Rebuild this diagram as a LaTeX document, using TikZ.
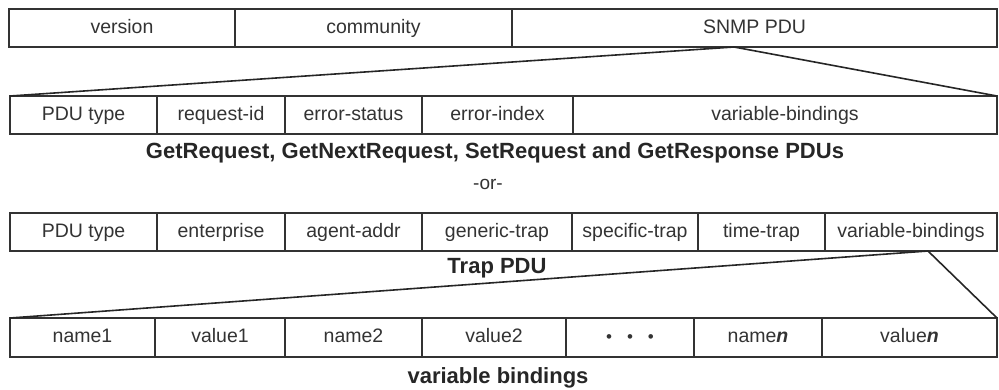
\documentclass[tikz,border=0pt]{standalone}
\usepackage{fontspec}
\setmainfont{Liberation Sans}
\begin{document}
\begin{tikzpicture}[x=1pt,y=-1pt,
  cell/.style={draw=black!80, line width=1.6pt, inner sep=0pt, outer sep=0pt,
    text=black!80, font=\fontsize{19.5}{22}\selectfont, text height=14pt, text depth=4pt},
  captext/.style={text=black!85, inner sep=0pt, font=\bfseries\fontsize{22}{24}\selectfont},
  link/.style={draw=black!85, line width=1.6pt}]
\useasboundingbox (0,0) rectangle (999,389);
% row 1
\node[cell, minimum width=226, minimum height=38] (v) at (122,28) {version};
\node[cell, minimum width=277, minimum height=38] (c) at (373.5,28) {community};
\node[cell, minimum width=485, minimum height=38] (s) at (754.5,28) {SNMP PDU};
% row 2
\node[cell, minimum width=147, minimum height=38] (r2a) at (83.5,115) {PDU type};
\node[cell, minimum width=128, minimum height=38] (r2b) at (221,115) {request-id};
\node[cell, minimum width=137, minimum height=38] (r2c) at (353.5,115) {error-status};
\node[cell, minimum width=151, minimum height=38] (r2d) at (497.5,115) {error-index};
\node[cell, minimum width=424, minimum height=38] (r2e) at (785,115) {variable-bindings};
\node[captext] (l1) at (495,153) {GetRequest, GetNextRequest, SetRequest and GetResponse PDUs};
\node[cell, draw=none, font=\fontsize{19}{20}\selectfont] (or) at (488,184) {-or-};
% row 3
\node[cell, minimum width=147, minimum height=38] (r3a) at (83.5,232) {PDU type};
\node[cell, minimum width=128, minimum height=38] (r3b) at (221,232) {enterprise};
\node[cell, minimum width=137, minimum height=38] (r3c) at (353.5,232) {agent-addr};
\node[cell, minimum width=150, minimum height=38] (r3d) at (497,232) {generic-trap};
\node[cell, minimum width=126, minimum height=38] (r3e) at (635,232) {specific-trap};
\node[cell, minimum width=127, minimum height=38] (r3f) at (761.5,232) {time-trap};
\node[cell, minimum width=172, minimum height=38] (r3g) at (911,232) {variable-bindings};
\node[captext] (l2) at (497,268) {Trap PDU};
% row 4
\node[cell, minimum width=145, minimum height=39] (r4a) at (82.5,337.5) {name1};
\node[cell, minimum width=130, minimum height=39] (r4b) at (220,337.5) {value1};
\node[cell, minimum width=137, minimum height=39] (r4c) at (353.5,337.5) {name2};
\node[cell, minimum width=144, minimum height=39] (r4d) at (494,337.5) {value2};
\node[cell, minimum width=128, minimum height=39] (r4e) at (630,337.5) {{\fontsize{17}{18}\selectfont\textbullet\hspace{15pt}\textbullet\hspace{15pt}\textbullet}};
\node[cell, minimum width=128, minimum height=39] (r4f) at (758,337.5) {name\textbf{\textit{n}}};
\node[cell, minimum width=175, minimum height=39] (r4g) at (909.5,337.5) {value\textbf{\textit{n}}};
\node[captext] (l3) at (498,378) {variable bindings};
% expansion lines
\coordinate (ap1) at (734,47);
\coordinate (ap2) at (928,251);
\draw[link] (r2a.north west) -- (ap1) -- (r2e.north east);
\draw[link] (r4a.north west) -- (ap2) -- (r4g.north east);
\end{tikzpicture}
\end{document}
